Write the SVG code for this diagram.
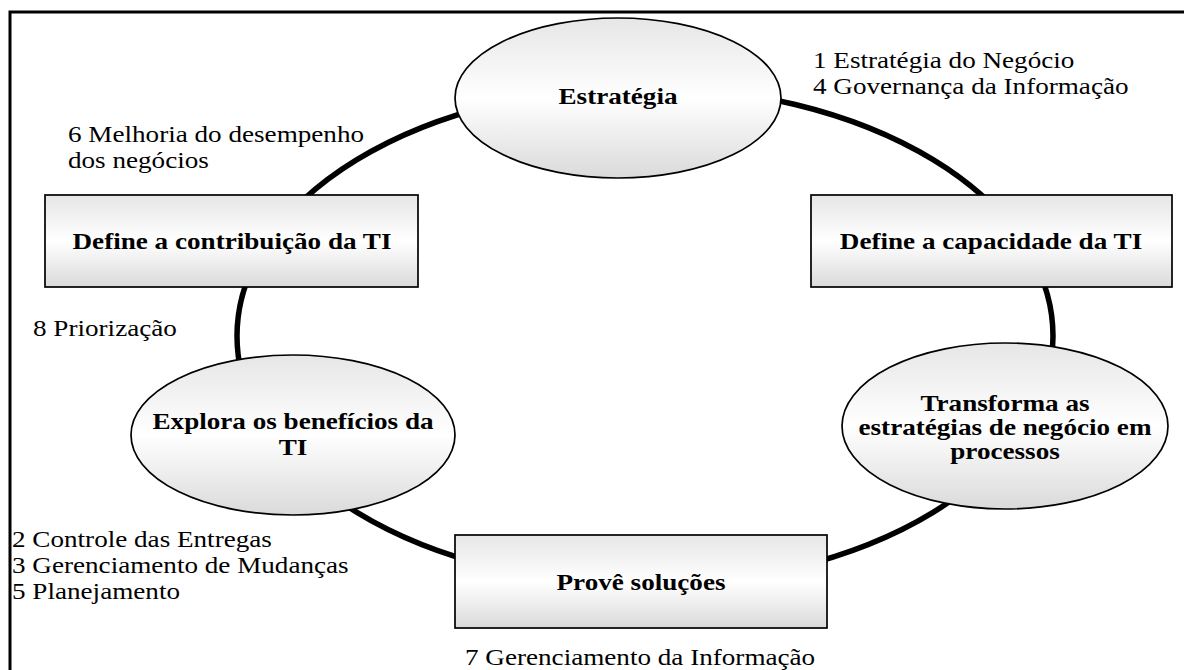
<svg xmlns="http://www.w3.org/2000/svg" width="1184" height="670" viewBox="0 0 1184 670">
  <defs>
    <linearGradient id="shade" x1="0" y1="0" x2="0" y2="1">
      <stop offset="0" stop-color="#e6e6e6"/>
      <stop offset="0.5" stop-color="#ffffff"/>
      <stop offset="1" stop-color="#dadada"/>
    </linearGradient>
  </defs>
  <style>
    .node { fill: url(#shade); stroke: #000; stroke-width: 1.7; }
    .ring { fill: none; stroke: #000; stroke-width: 5.5; }
    .title { font-family: "Liberation Serif", "Times New Roman", serif; font-weight: bold; font-size: 23px; fill: #000; text-anchor: middle; }
    .note { font-family: "Liberation Serif", "Times New Roman", serif; font-size: 23px; fill: #000; }
  </style>

  <rect x="10" y="12" width="1200" height="700" fill="#fff" stroke="#000" stroke-width="3"/>

  <!-- cycle connecting the stages -->
  <g id="connectors">
    <ellipse class="ring" cx="645" cy="336" rx="408" ry="249"/>
  </g>

  <g id="estrategia">
    <ellipse class="node" cx="618" cy="98" rx="163" ry="80"/>
    <text class="title" transform="matrix(1.18 0 0 1 618 104)">Estratégia</text>
  </g>

  <g id="define-contribuicao">
    <rect class="node" x="45" y="195" width="373" height="92"/>
    <text class="title" transform="matrix(1.18 0 0 1 232 249)">Define a contribuição da TI</text>
  </g>

  <g id="define-capacidade">
    <rect class="node" x="811" y="195" width="361" height="92"/>
    <text class="title" transform="matrix(1.18 0 0 1 991 249)">Define a capacidade da TI</text>
  </g>

  <g id="transforma">
    <ellipse class="node" cx="1005" cy="426" rx="163" ry="83"/>
    <text class="title" transform="matrix(1.18 0 0 1 1005 411)">Transforma as</text>
    <text class="title" transform="matrix(1.18 0 0 1 1005 435)">estratégias de negócio em</text>
    <text class="title" transform="matrix(1.18 0 0 1 1005 459)">processos</text>
  </g>

  <g id="explora">
    <ellipse class="node" cx="293" cy="435" rx="162" ry="80"/>
    <text class="title" transform="matrix(1.18 0 0 1 293 429)">Explora os benefícios da</text>
    <text class="title" transform="matrix(1.18 0 0 1 293 455)">TI</text>
  </g>

  <g id="prove">
    <rect class="node" x="455" y="535" width="372" height="93"/>
    <text class="title" transform="matrix(1.18 0 0 1 641 590)">Provê soluções</text>
  </g>

  <!-- numbered annotations around the cycle -->
  <g id="labels">
    <text class="note" transform="matrix(1.18 0 0 1 813 68)">1 Estratégia do Negócio</text>
    <text class="note" transform="matrix(1.18 0 0 1 813 94)">4 Governança da Informação</text>
    <text class="note" transform="matrix(1.18 0 0 1 68 142)">6 Melhoria do desempenho</text>
    <text class="note" transform="matrix(1.18 0 0 1 68 168)">dos negócios</text>
    <text class="note" transform="matrix(1.18 0 0 1 33 336)">8 Priorização</text>
    <text class="note" transform="matrix(1.18 0 0 1 12 547)">2 Controle das Entregas</text>
    <text class="note" transform="matrix(1.18 0 0 1 12 573)">3 Gerenciamento de Mudanças</text>
    <text class="note" transform="matrix(1.18 0 0 1 12 599)">5 Planejamento</text>
    <text class="note" transform="matrix(1.18 0 0 1 465 665)">7 Gerenciamento da Informação</text>
  </g>
</svg>
